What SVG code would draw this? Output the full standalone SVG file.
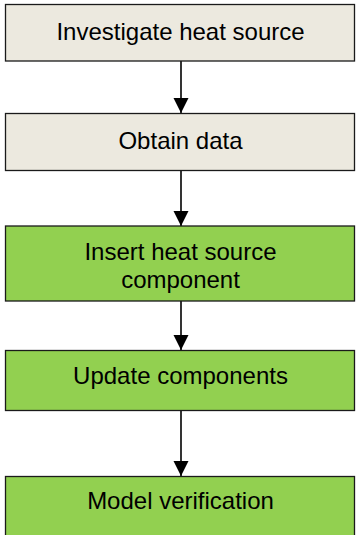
<svg xmlns="http://www.w3.org/2000/svg" width="356" height="535" viewBox="0 0 356 535">
  <style>
    .box { stroke: #1a1a1a; stroke-width: 1.3; }
    .beige { fill: #ECE9DF; }
    .green { fill: #92D050; }
    .label { font-family: "Liberation Sans", Arial, sans-serif; font-size: 24px; fill: #000; text-anchor: middle; }
    .link { stroke: #000; stroke-width: 1.6; fill: none; marker-end: url(#arrow); }
  </style>
  <defs>
    <marker id="arrow" markerUnits="userSpaceOnUse" markerWidth="16" markerHeight="18" refX="15" refY="7.5" orient="auto">
      <path d="M0,0 L15,7.5 L0,15 Z" fill="#000"/>
    </marker>
  </defs>
  <rect width="356" height="535" fill="#fff"/>

  <g id="connectors">
    <line class="link" x1="181" y1="61" x2="181" y2="113"/>
    <line class="link" x1="181" y1="171" x2="181" y2="226"/>
    <line class="link" x1="181" y1="301" x2="181" y2="350"/>
    <line class="link" x1="181" y1="411" x2="181" y2="476"/>
  </g>

  <g id="investigate">
    <rect class="box beige" x="5.5" y="4.5" width="349" height="56.5"/>
    <text class="label" x="180.5" y="40">Investigate heat source</text>
  </g>
  <g id="obtain">
    <rect class="box beige" x="5.5" y="113.5" width="349" height="57"/>
    <text class="label" x="180.5" y="149">Obtain data</text>
  </g>
  <g id="insert">
    <rect class="box green" x="5.5" y="226" width="349" height="75"/>
    <text class="label" x="180.5" y="260">Insert heat source</text>
    <text class="label" x="180.5" y="288">component</text>
  </g>
  <g id="update">
    <rect class="box green" x="5.5" y="350.5" width="349" height="60"/>
    <text class="label" x="180.5" y="384">Update components</text>
  </g>
  <g id="verify">
    <rect class="box green" x="5.5" y="476.5" width="349" height="70"/>
    <text class="label" x="180.5" y="509">Model verification</text>
  </g>
</svg>
